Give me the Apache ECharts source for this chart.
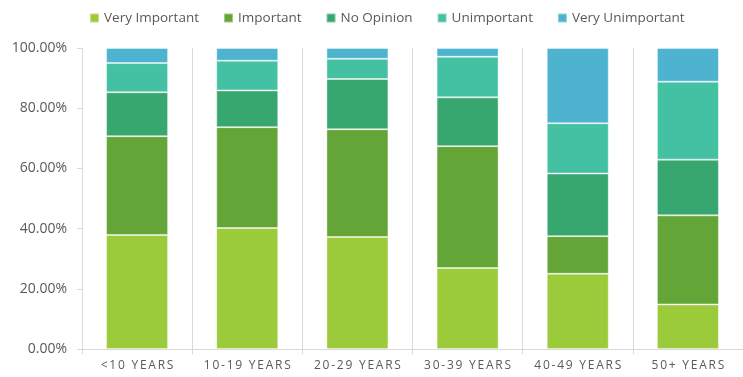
<!DOCTYPE html>
<html>
<head>
<meta charset="utf-8">
<script src="https://cdn.jsdelivr.net/npm/echarts@6/dist/echarts.min.js"></script>
<style>
  html, body { margin: 0; padding: 0; background: #ffffff; }
  #chart { width: 743px; height: 377px; }
</style>
</head>
<body>
<div id="chart"></div>
<script>
// Age groups on the category axis
const categories = ['<10 YEARS', '10-19 YEARS', '20-29 YEARS', '30-39 YEARS', '40-49 YEARS', '50+ YEARS'];

// Share of respondents (%) per answer, one value per age group
const veryImportant   = [37.9, 40.2, 37.2, 26.9, 25.0, 14.8];
const important       = [32.8, 33.5, 35.8, 40.5, 12.5, 29.6];
const noOpinion       = [14.6, 12.2, 16.7, 16.2, 20.8, 18.5];
const unimportant     = [9.7, 9.9, 6.7, 13.5, 16.7, 25.9];
const veryUnimportant = [5.0, 4.2, 3.6, 2.9, 25.0, 11.2];

const seriesNames = ['Very Important', 'Important', 'No Opinion', 'Unimportant', 'Very Unimportant'];
const seriesValues = [veryImportant, important, noOpinion, unimportant, veryUnimportant];
const seriesColors = ['#9bcb3b', '#63a537', '#37a76f', '#44c1a3', '#4eb3cf'];

const textColor = '#595959';
const lineColor = '#d9d9d9';
const fontFamily = '"Open Sans", sans-serif';

const chart = echarts.init(document.getElementById('chart'), null, { renderer: 'canvas' });

// Split a label into per-character rich segments to get spaced-out lettering
function spaced(label) {
  return label.split('').map(ch => '{c|' + ch + '}').join('');
}

chart.setOption({
  animation: false,
  textStyle: { fontFamily: fontFamily },
  legend: {
    left: 89,
    top: 11,
    padding: 0,
    itemWidth: 9,
    itemHeight: 9,
    itemGap: 24,
    icon: 'rect',
    textStyle: { color: textColor, fontSize: 13.5, fontFamily: fontFamily },
    data: seriesNames
  },
  grid: { left: 82, top: 48, width: 668, height: 301 },
  xAxis: {
    type: 'category',
    data: categories,
    boundaryGap: true,
    axisLine: { show: true, lineStyle: { color: lineColor, width: 1 } },
    axisTick: { show: true, interval: 0, length: 5, lineStyle: { color: lineColor } },
    splitLine: { show: true, interval: 0, lineStyle: { color: lineColor, width: 1 } },
    axisLabel: {
      interval: 0,
      margin: 11,
      color: textColor,
      fontSize: 12,
      fontFamily: fontFamily,
      formatter: spaced,
      rich: {
        c: { fontSize: 12, color: textColor, fontFamily: fontFamily, padding: [0, 0.88, 0, 0.88] }
      }
    }
  },
  yAxis: {
    type: 'value',
    min: 0,
    max: 100,
    interval: 20,
    axisLine: { show: true, lineStyle: { color: lineColor, width: 1 } },
    axisTick: { show: true, length: 5, lineStyle: { color: lineColor } },
    splitLine: { show: false },
    axisLabel: {
      margin: 15,
      color: textColor,
      fontSize: 14,
      fontFamily: fontFamily,
      formatter: v => v.toFixed(2) + '%'
    }
  },
  series: seriesNames.map((name, i) => ({
    name: name,
    type: 'bar',
    stack: 'total',
    barWidth: 62,
    data: seriesValues[i],
    itemStyle: {
      color: seriesColors[i],
      borderColor: 'rgba(255,255,255,0.4)',
      borderWidth: 1
    }
  }))
});
</script>
</body>
</html>
